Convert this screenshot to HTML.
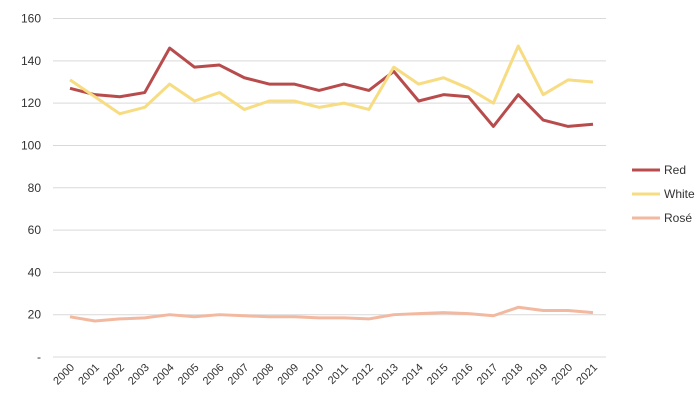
<!DOCTYPE html>
<html><head><meta charset="utf-8"><style>
body{margin:0;background:#fff;font-family:"Liberation Sans",sans-serif}
</style></head><body>
<svg id="c" width="700" height="405"></svg>
<script>
const years=["2000","2001","2002","2003","2004","2005","2006","2007","2008","2009","2010","2011","2012","2013","2014","2015","2016","2017","2018","2019","2020","2021"];
const red=[127,124,123,125,146,137,138,132,129,129,126,129,126,135,121,124,123,109,124,112,109,110];
const white=[131,123,115,118,129,121,125,117,121,121,118,120,117,137,129,132,127,120,147,124,131,130];
const rose=[19,17,18,18.5,20,19,20,19.5,19,19,18.5,18.5,18,20,20.5,21,20.5,19.5,23.5,22,22,21];
const yTicks=[0,20,40,60,80,100,120,140,160];
const yTickLabels=["-","20","40","60","80","100","120","140","160"];
const series=[{name:"Red",vals:red,color:"#b84c4c"},{name:"White",vals:white,color:"#f7dc82"},{name:"Rosé",vals:rose,color:"#f2b9a0"}];
const NS="http://www.w3.org/2000/svg",svg=document.getElementById("c");
const x=i=>70+i*(593-70)/(years.length-1);
const y=v=>357-v*(357-18.5)/160;
function mk(t,a){const e=document.createElementNS(NS,t);for(const k in a)e.setAttribute(k,a[k]);svg.appendChild(e);return e;}
yTicks.forEach((v,i)=>{
 const g=mk("line",{x1:53,x2:606,y1:y(v),y2:y(v),stroke:"#d9d9d9","stroke-width":1});
 
 
 const t=mk("text",{x:41,y:y(v)+4,"text-anchor":"end","font-size":12,fill:"#333"});
 t.textContent=yTickLabels[i];
 
 
});
years.forEach((yr,i)=>{
 const t=mk("text",{x:x(i)+5,y:368,"text-anchor":"end","font-size":11,fill:"#333",transform:`rotate(-45 ${x(i)+5} 368)`});
 t.textContent=yr;
 
 
});
series.forEach((s,k)=>{
 const p=mk("polyline",{points:s.vals.map((v,i)=>x(i)+","+y(v)).join(" "),fill:"none",stroke:s.color,"stroke-width":3,"stroke-linejoin":"round"});
 
 
 const ly=170+k*24;
 const l=mk("line",{x1:632,x2:660,y1:ly,y2:ly,stroke:s.color,"stroke-width":3});
 
 
 const t=mk("text",{x:664,y:ly+4,"font-size":12,fill:"#333"});
 t.textContent=s.name;
 
 
});
</script>
</body></html>
